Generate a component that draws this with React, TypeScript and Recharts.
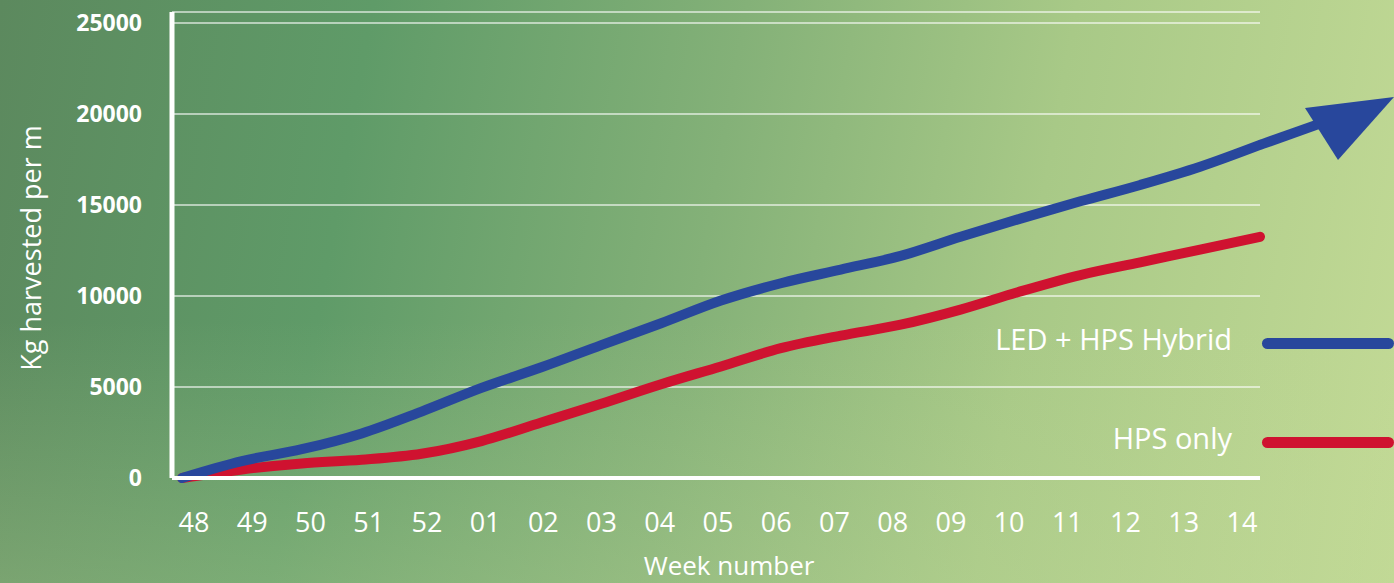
import { LineChart, Line, XAxis, YAxis, CartesianGrid, Legend } from "recharts";

// week labels along the x axis
const weeks = ["48", "49", "50", "51", "52", "01", "02", "03", "04", "05", "06", "07", "08", "09", "10", "11", "12", "13", "14"];
// kg harvested per m
const hybrid = [0, 930, 1580, 2450, 3650, 4950, 6080, 7300, 8500, 9750, 10700, 11450, 12200, 13250, 14250, 15200, 16100, 17100, 18300];
const hpsOnly = [0, 470, 800, 1000, 1330, 2030, 3050, 4080, 5150, 6130, 7130, 7820, 8420, 9250, 10250, 11150, 11850, 12550, 13250];
const yTicks = [0, 5000, 10000, 15000, 20000, 25000];

const data = weeks.map((week, idx) => ({ idx, week, hybrid: hybrid[idx], hps: hpsOnly[idx] }));

const BLUE = "#28479c";
const RED = "#cf1230";
const FONT = "'Open Sans', sans-serif";

// arrow head drawn on the last hybrid point
const arrowDot = (props: any) => {
  const { cx, cy, index } = props;
  if (index !== data.length - 1) return <g key={`d-${index}`} />;
  return (
    <g key={`d-${index}`}>
      <line x1={cx} y1={cy} x2={cx + 62} y2={cy - 22} stroke={BLUE} strokeWidth={10} />
      <polygon points={`${cx + 134},${cy - 48} ${cx + 45},${cy - 37} ${cx + 78},${cy + 15}`} fill={BLUE} />
    </g>
  );
};

const renderLegend = ({ payload }: any) => (
  <div style={{ display: "flex", flexDirection: "column", alignItems: "flex-end" }}>
    {[...(payload || [])].reverse().map((entry: any, i: number) => (
      <div key={entry.value} style={{ display: "flex", alignItems: "center", height: 40, marginTop: i ? 59 : 0 }}>
        <span style={{ fontFamily: FONT, fontSize: 29, fontWeight: 400, color: "#fff" }}>{entry.value}</span>
        <span style={{ width: 132, height: 11, borderRadius: 6, background: entry.color, marginLeft: 30, marginTop: 10 }} />
      </div>
    ))}
  </div>
);

const xLabel = ({ viewBox }: any) => (
  <text x={viewBox.x + viewBox.width / 2 + 13} y={viewBox.y + viewBox.height - 8} textAnchor="middle" fill="#fff" fontFamily={FONT} fontSize={26}>
    Week number
  </text>
);

const yLabel = ({ viewBox }: any) => {
  const cy = viewBox.y + viewBox.height / 2 + 3;
  return (
    <text x={30} y={cy} transform={`rotate(-90 30 ${cy})`} textAnchor="middle" dominantBaseline="central" fill="#fff" fontFamily={FONT} fontSize={27}>
      Kg harvested per m
    </text>
  );
};

const App = () => (
  <div
    style={{
      position: "fixed",
      left: 0,
      top: 0,
      width: 1394,
      height: 583,
      background:
        "linear-gradient(to bottom, rgba(255,255,255,0) 55%, rgba(190,215,150,0.3) 100%), linear-gradient(100deg, #5c895e 0%, #5f9b68 25%, #84b178 50%, #a8c987 72%, #c3da96 100%)",
    }}
  >
    <LineChart width={1394} height={583} data={data} margin={{ top: 12, right: 134, left: 0, bottom: 0 }}>
      <CartesianGrid vertical={false} stroke="#ffffff" strokeOpacity={0.75} strokeWidth={1.5} />
      <XAxis
        dataKey="week"
        height={105}
        padding={{ left: 22, right: 18 }}
        axisLine={{ stroke: "#fff", strokeWidth: 4 }}
        tickLine={false}
        tickSize={0}
        tickMargin={35}
        interval={0}
        tick={{ fill: "#fff", fontFamily: FONT, fontSize: 27 }}
        label={xLabel}
      />
      <XAxis xAxisId="pos" dataKey="idx" type="number" domain={[0, 18]} padding={{ left: 10, right: 0 }} hide />
      <YAxis
        width={172}
        domain={[0, 25600]}
        ticks={yTicks}
        axisLine={{ stroke: "#fff", strokeWidth: 5 }}
        tickLine={false}
        tickSize={0}
        tickMargin={30}
        tick={{ fill: "#fff", fontFamily: FONT, fontSize: 23, fontWeight: 700 }}
        label={yLabel}
      />
      <Legend layout="horizontal" verticalAlign="middle" align="center" content={renderLegend} wrapperStyle={{ left: 0, top: 318, width: 1394 }} />
      <Line
        xAxisId="pos"
        name="HPS only"
        dataKey="hps"
        type="monotone"
        stroke={RED}
        strokeWidth={10}
        strokeLinecap="round"
        dot={false}
        activeDot={false}
        isAnimationActive={false}
      />
      <Line
        xAxisId="pos"
        name="LED + HPS Hybrid"
        dataKey="hybrid"
        type="monotone"
        stroke={BLUE}
        strokeWidth={10}
        strokeLinecap="round"
        dot={arrowDot}
        activeDot={false}
        isAnimationActive={false}
      />
    </LineChart>
  </div>
);

export default App;
